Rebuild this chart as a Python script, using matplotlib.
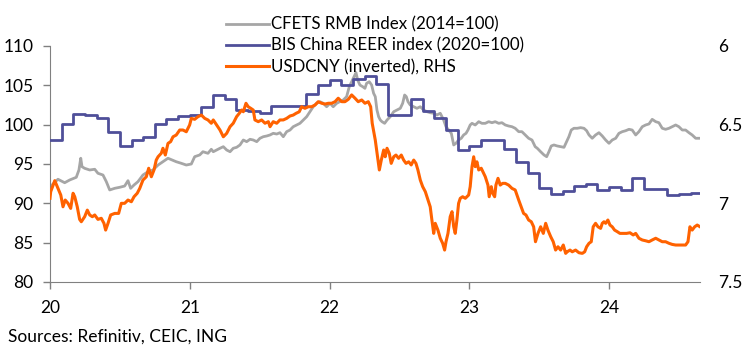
import matplotlib
matplotlib.use("Agg")
import matplotlib.pyplot as plt
from matplotlib.lines import Line2D

plt.rcParams["font.family"] = ["Lato", "DejaVu Sans"]

# CFETS RMB index (2014=100), decimal year offsets from 2020
cfets_t = [0.000, 0.014, 0.057, 0.105, 0.141, 0.188, 0.207, 0.220, 0.229, 0.248,
           0.284, 0.320, 0.343, 0.379, 0.403, 0.427, 0.463, 0.499, 0.534, 0.558,
           0.577, 0.601, 0.629, 0.665, 0.701, 0.737, 0.773, 0.808, 0.844, 0.873,
           0.903, 0.939, 0.975, 1.011, 1.035, 1.071, 1.094, 1.130, 1.154, 1.168,
           1.192, 1.216, 1.240, 1.264, 1.288, 1.311, 1.335, 1.359, 1.383, 1.407,
           1.431, 1.454, 1.479, 1.502, 1.526, 1.550, 1.574, 1.597, 1.622, 1.645,
           1.669, 1.693, 1.717, 1.740, 1.765, 1.788, 1.812, 1.836, 1.860, 1.883,
           1.908, 1.931, 1.955, 1.979, 2.003, 2.026, 2.051, 2.074, 2.098, 2.122,
           2.141, 2.158, 2.175, 2.189, 2.201, 2.217, 2.237, 2.253, 2.265, 2.284,
           2.301, 2.315, 2.327, 2.339, 2.351, 2.363, 2.375, 2.394, 2.411, 2.434,
           2.459, 2.482, 2.506, 2.523, 2.537, 2.549, 2.561, 2.577, 2.602, 2.625,
           2.649, 2.673, 2.697, 2.720, 2.745, 2.768, 2.792, 2.816, 2.833, 2.852,
           2.871, 2.888, 2.904, 2.923, 2.942, 2.959, 2.976, 2.990, 3.006, 3.019,
           3.042, 3.067, 3.090, 3.114, 3.138, 3.162, 3.185, 3.210, 3.233, 3.257,
           3.281, 3.305, 3.328, 3.353, 3.376, 3.400, 3.424, 3.448, 3.471, 3.486,
           3.510, 3.534, 3.553, 3.569, 3.586, 3.605, 3.629, 3.653, 3.677, 3.696,
           3.712, 3.729, 3.748, 3.772, 3.796, 3.820, 3.839, 3.856, 3.879, 3.903,
           3.927, 3.951, 3.975, 3.999, 4.022, 4.047, 4.070, 4.094, 4.118, 4.142,
           4.165, 4.190, 4.213, 4.237, 4.261, 4.285, 4.308, 4.333, 4.356, 4.380,
           4.404, 4.428, 4.451, 4.476, 4.499, 4.523, 4.547, 4.571, 4.594, 4.619,
           4.642]
cfets_v = [91.5, 92.33, 93.06, 92.62, 92.97, 93.31, 94.24, 95.73, 94.66, 94.45,
           94.24, 94.33, 93.82, 93.6, 92.75, 91.7, 91.91, 92.04, 92.2, 92.88,
           91.91, 92.33, 92.75, 93.6, 94.02, 94.24, 94.87, 95.29, 95.73, 95.51,
           95.29, 95.09, 94.87, 95.0, 95.93, 96.15, 96.56, 96.36, 96.87, 96.56,
           96.78, 97.0, 97.2, 96.78, 96.56, 97.0, 97.12, 97.42, 98.05, 97.84,
           98.14, 98.05, 97.84, 98.27, 98.47, 98.56, 98.69, 98.9, 98.81, 98.98,
           98.47, 99.11, 99.32, 99.74, 99.96, 100.17, 100.59, 101.01, 101.65, 102.28,
           102.72, 102.92, 102.72, 102.28, 102.72, 102.28, 102.72, 102.92, 103.14, 103.56,
           104.83, 105.46, 106.1, 106.61, 105.68, 105.04, 104.83, 104.62, 105.26, 105.46,
           105.04, 103.99, 103.56, 101.86, 101.01, 100.59, 100.38, 100.17, 100.59, 101.01,
           101.65, 101.86, 102.08, 102.72, 103.77, 103.56, 102.92, 102.5, 102.28, 102.08,
           102.28, 101.86, 101.65, 101.52, 101.45, 101.23, 101.45, 100.59, 99.74, 99.32,
           98.9, 97.42, 97.63, 98.05, 98.27, 98.69, 98.9, 99.32, 99.96, 100.17,
           99.96, 100.38, 100.17, 100.17, 100.38, 100.25, 100.38, 100.17, 100.25, 99.96,
           99.83, 99.74, 99.54, 99.11, 99.11, 98.69, 98.27, 98.05, 97.2, 97.0,
           96.56, 96.15, 95.93, 96.56, 97.29, 97.42, 97.29, 97.2, 97.12, 97.84,
           98.47, 99.32, 99.54, 99.54, 99.62, 99.54, 99.23, 98.69, 98.27, 98.69,
           98.98, 98.56, 98.05, 97.63, 98.05, 98.27, 98.9, 99.11, 99.23, 99.41,
           99.32, 98.69, 99.11, 99.74, 99.96, 100.09, 100.68, 100.38, 100.25, 99.54,
           99.41, 99.54, 99.74, 99.96, 99.74, 99.32, 99.32, 98.98, 98.69, 98.27,
           98.27]

# BIS China REER index (2020=100), monthly from Jan 2020
bis_v = [98.05, 100.1, 101.4, 101.25, 100.85, 99.05, 97.35, 98.1, 98.45, 100.1,
         100.75, 101.15, 101.25, 102.25, 103.8, 103.25, 101.9, 101.7, 101.5, 102.35,
         102.35, 102.35, 103.85, 105.0, 105.7, 105.0, 105.75, 106.25, 105.2, 101.2,
         101.2, 103.3, 101.8, 100.9, 99.3, 96.8, 97.3, 98.05, 98.05, 96.85,
         95.3, 93.9, 92.0, 91.2, 91.6, 92.2, 92.45, 91.7, 92.1, 91.7,
         93.25, 91.8, 91.8, 91.05, 91.15, 91.3]

# USDCNY, decimal year offsets from 2020
usd_t = [0.000, 0.005, 0.034, 0.057, 0.077, 0.093, 0.109, 0.129, 0.148, 0.165,
         0.177, 0.195, 0.212, 0.224, 0.248, 0.267, 0.284, 0.303, 0.320, 0.343,
         0.367, 0.386, 0.398, 0.415, 0.434, 0.463, 0.491, 0.510, 0.534, 0.558,
         0.582, 0.601, 0.624, 0.642, 0.665, 0.689, 0.706, 0.725, 0.744, 0.760,
         0.773, 0.796, 0.808, 0.825, 0.844, 0.863, 0.880, 0.903, 0.928, 0.951,
         0.975, 0.999, 1.011, 1.035, 1.059, 1.083, 1.107, 1.130, 1.154, 1.168,
         1.192, 1.216, 1.240, 1.264, 1.288, 1.311, 1.335, 1.354, 1.371, 1.383,
         1.402, 1.418, 1.436, 1.454, 1.466, 1.490, 1.514, 1.538, 1.562, 1.574,
         1.597, 1.622, 1.645, 1.669, 1.693, 1.717, 1.740, 1.760, 1.783, 1.800,
         1.824, 1.848, 1.872, 1.896, 1.919, 1.944, 1.967, 1.991, 2.015, 2.039,
         2.062, 2.087, 2.110, 2.134, 2.158, 2.182, 2.205, 2.230, 2.253, 2.277,
         2.294, 2.305, 2.327, 2.346, 2.356, 2.370, 2.387, 2.398, 2.411, 2.427,
         2.441, 2.459, 2.475, 2.494, 2.513, 2.530, 2.547, 2.566, 2.584, 2.602,
         2.618, 2.632, 2.649, 2.666, 2.685, 2.704, 2.720, 2.732, 2.745, 2.756,
         2.775, 2.792, 2.809, 2.823, 2.833, 2.847, 2.863, 2.876, 2.888, 2.899,
         2.911, 2.923, 2.935, 2.952, 2.971, 2.995, 3.006, 3.019, 3.031, 3.042,
         3.054, 3.067, 3.085, 3.102, 3.114, 3.133, 3.142, 3.157, 3.167, 3.181,
         3.190, 3.205, 3.221, 3.238, 3.257, 3.281, 3.305, 3.328, 3.353, 3.371,
         3.388, 3.405, 3.424, 3.443, 3.460, 3.473, 3.491, 3.510, 3.529, 3.546,
         3.562, 3.582, 3.600, 3.617, 3.634, 3.653, 3.672, 3.689, 3.700, 3.720,
         3.736, 3.760, 3.784, 3.808, 3.825, 3.839, 3.856, 3.872, 3.886, 3.903,
         3.920, 3.939, 3.951, 3.963, 3.975, 3.991, 4.006, 4.022, 4.039, 4.058,
         4.077, 4.101, 4.125, 4.149, 4.172, 4.190, 4.213, 4.237, 4.261, 4.285,
         4.308, 4.333, 4.356, 4.380, 4.404, 4.428, 4.451, 4.476, 4.499, 4.523,
         4.547, 4.564, 4.578, 4.594, 4.612, 4.630, 4.650]
usd_v = [6.968, 6.926, 6.856, 6.905, 6.947, 7.022, 6.979, 7.0, 7.032, 6.936,
         6.958, 7.022, 7.102, 7.117, 7.085, 7.043, 7.074, 7.085, 7.074, 7.102,
         7.095, 7.127, 7.170, 7.127, 7.074, 7.064, 7.064, 7.0, 7.0, 6.979,
         6.990, 6.958, 6.936, 6.905, 6.852, 6.831, 6.777, 6.831, 6.788, 6.725,
         6.704, 6.682, 6.650, 6.693, 6.619, 6.608, 6.577, 6.566, 6.534, 6.534,
         6.545, 6.502, 6.460, 6.466, 6.449, 6.439, 6.460, 6.470, 6.491, 6.470,
         6.502, 6.534, 6.577, 6.555, 6.513, 6.491, 6.449, 6.428, 6.407, 6.418,
         6.364, 6.386, 6.396, 6.407, 6.470, 6.481, 6.470, 6.491, 6.481, 6.513,
         6.481, 6.491, 6.470, 6.470, 6.460, 6.445, 6.439, 6.428, 6.418, 6.386,
         6.396, 6.386, 6.386, 6.375, 6.354, 6.364, 6.369, 6.364, 6.364, 6.354,
         6.332, 6.354, 6.354, 6.339, 6.311, 6.332, 6.354, 6.343, 6.364, 6.354,
         6.386, 6.491, 6.598, 6.725, 6.788, 6.725, 6.661, 6.704, 6.650, 6.682,
         6.746, 6.704, 6.693, 6.714, 6.693, 6.725, 6.746, 6.736, 6.756, 6.725,
         6.746, 6.788, 6.852, 6.894, 6.926, 6.979, 7.022, 7.106, 7.191, 7.127,
         7.170, 7.222, 7.254, 7.297, 7.244, 7.191, 7.085, 7.053, 7.149, 7.191,
         7.106, 7.0, 6.968, 6.958, 6.968, 6.947, 6.894, 6.767, 6.704, 6.767,
         6.736, 6.788, 6.777, 6.809, 6.831, 6.884, 6.958, 6.894, 6.936, 6.958,
         6.884, 6.841, 6.884, 6.873, 6.873, 6.884, 6.905, 6.915, 6.979, 7.022,
         7.064, 7.074, 7.106, 7.117, 7.149, 7.244, 7.191, 7.149, 7.191, 7.127,
         7.170, 7.212, 7.244, 7.297, 7.276, 7.297, 7.265, 7.318, 7.308, 7.297,
         7.308, 7.297, 7.314, 7.318, 7.308, 7.276, 7.254, 7.244, 7.149, 7.127,
         7.149, 7.159, 7.127, 7.117, 7.127, 7.106, 7.138, 7.149, 7.170, 7.180,
         7.191, 7.191, 7.191, 7.187, 7.201, 7.191, 7.222, 7.233, 7.238, 7.244,
         7.233, 7.222, 7.233, 7.244, 7.244, 7.254, 7.261, 7.265, 7.265, 7.265,
         7.265, 7.244, 7.149, 7.170, 7.149, 7.138, 7.149]

year_ticks = [2020, 2021, 2022, 2023, 2024]
year_labels = ["20", "21", "22", "23", "24"]

GREY = "#a6a6a6"
NAVY = "#4f4f99"
ORANGE = "#ff6200"
END = 2024.65


def main():
    fig = plt.figure(figsize=(7.44, 3.48), dpi=100)
    ax = fig.add_axes([50 / 744, 1 - 282 / 348, 650 / 744, 236 / 348])
    ax2 = ax.twinx()

    ax.plot([2020 + t for t in cfets_t], cfets_v, color=GREY, linewidth=2.0,
            zorder=2)
    bis_t = [2020 + m / 12 for m in range(len(bis_v))] + [END]
    ax.step(bis_t, bis_v + [bis_v[-1]], where="post", color=NAVY,
            linewidth=2.0, zorder=3)
    ax2.plot([2020 + t for t in usd_t], usd_v, color=ORANGE, linewidth=2.2)

    ax.set_xlim(2020, END)
    ax.set_ylim(80, 110)
    ax.set_yticks([80, 85, 90, 95, 100, 105, 110])
    ax.set_xticks(year_ticks)
    ax.set_xticklabels(year_labels)
    ax2.set_ylim(7.5, 6)
    ax2.set_yticks([6, 6.5, 7, 7.5])
    ax2.set_yticklabels(["6", "6.5", "7", "7.5"])

    for a in (ax, ax2):
        for s in a.spines.values():
            s.set_visible(False)
    ax.spines["left"].set_visible(True)
    ax.spines["bottom"].set_visible(True)
    ax.spines["left"].set_color("#808080")
    ax.spines["bottom"].set_color("#808080")
    ax.tick_params(axis="both", colors="#808080", labelcolor="black",
                   labelsize=12.5, length=5, width=1)
    ax.tick_params(axis="y", pad=7)
    ax.tick_params(axis="x", pad=8)
    ax2.tick_params(axis="y", length=0, pad=13, labelsize=12.5)

    handles = [Line2D([], [], color=GREY, linewidth=2.0),
               Line2D([], [], color=NAVY, linewidth=2.0),
               Line2D([], [], color=ORANGE, linewidth=2.2)]
    labels = ["CFETS RMB Index (2014=100)", "BIS China REER index (2020=100)",
              "USDCNY (inverted), RHS"]
    fig.legend(handles, labels, loc="upper left",
               bbox_to_anchor=(218 / 744, 1 - 8 / 348), frameon=False,
               fontsize=12.2, handlelength=2.5, handletextpad=0.15,
               labelspacing=0.3, borderpad=0)

    fig.text(8 / 744, 1 - 337 / 348, "Sources: Refinitiv, CEIC, ING",
             fontsize=12.5, va="center", ha="left")

    fig.savefig("out.png", dpi=100)


if __name__ == "__main__":
    main()
